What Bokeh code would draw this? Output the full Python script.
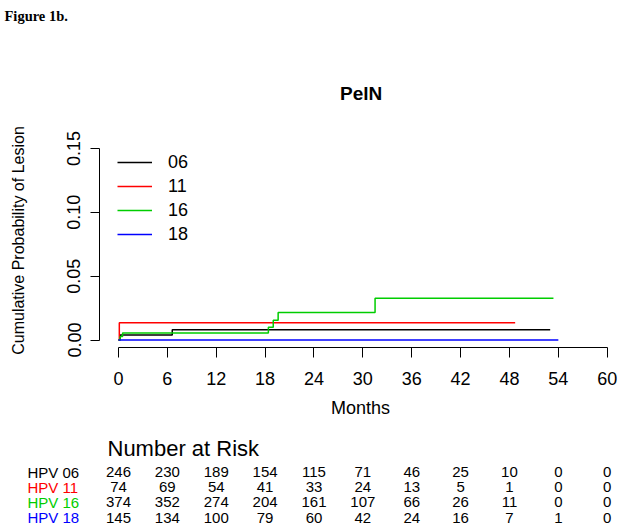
import math
from bokeh.plotting import figure
from bokeh.models import (Range1d, FixedTicker, NumeralTickFormatter, Legend, LegendItem,
                          ColumnDataSource, LinearAxis)
from bokeh.embed import file_html
from bokeh.resources import INLINE
from bokeh.core.properties import value

# ---------------- data ----------------
groups = ["06", "11", "16", "18"]
group_colors = ["#000000", "#FF0000", "#00CD00", "#0000FF"]

time_06 = [0.0, 0.2, 6.6, 53.0]
prob_06 = [0.0, 0.0040, 0.0081, 0.0081]
time_11 = [0.0, 0.1, 48.7]
prob_11 = [0.0, 0.0135, 0.0135]
time_16 = [0.0, 0.2, 0.5, 18.4, 19.0, 19.6, 31.5, 53.4]
prob_16 = [0.0, 0.0027, 0.0054, 0.0100, 0.0155, 0.0215, 0.0327, 0.0327]
time_18 = [0.0, 54.0]
prob_18 = [0.0, 0.0]

month_ticks = [0, 6, 12, 18, 24, 30, 36, 42, 48, 54, 60]
prob_ticks = [0.0, 0.05, 0.10, 0.15]

risk_labels = ["HPV 06", "HPV 11", "HPV 16", "HPV 18"]
risk_06 = [246, 230, 189, 154, 115, 71, 46, 25, 10, 0, 0]
risk_11 = [74, 69, 54, 41, 33, 24, 13, 5, 1, 0, 0]
risk_16 = [374, 352, 274, 204, 161, 107, 66, 26, 11, 0, 0]
risk_18 = [145, 134, 100, 79, 60, 42, 24, 16, 7, 1, 0]

# ---------------- layout constants (pixels) ----------------
FONT = "Liberation Sans"
W, H = 619, 526
X0_PX, MONTH_PX = 118.0, 8.145      # x pixel of month 0, pixels per month
Y0_PX, PROB_PX = 339.5, 1277.0      # y pixel of probability 0, pixels per unit


def mx(px):   # pixel -> month
    return (px - X0_PX) / MONTH_PX


def py(px):   # pixel -> probability
    return (Y0_PX - px) / PROB_PX


p = figure(width=W, height=H, x_range=Range1d(mx(0), mx(W)), y_range=Range1d(py(H), py(0)),
           x_axis_location=None, y_axis_location=None, min_border=0,
           toolbar_location=None, output_backend="svg")
p.grid.visible = False
p.outline_line_color = None
p.background_fill_color = "white"
p.border_fill_color = "white"
p.extra_y_ranges = {"page": Range1d(H, 0), "risk": Range1d(1 - (H - 517) / 15.1, 1 + 517 / 15.1)}

# ---------------- curves ----------------
series = [(time_06, prob_06), (time_11, prob_11), (time_16, prob_16), (time_18, prob_18)]
renderers = []
for (t, pr), c in zip(series, group_colors):
    renderers.append(p.step(x=t, y=pr, mode="after", line_color=c, line_width=1.5))

# ---------------- axes ----------------
xaxis = LinearAxis(fixed_location=py(347), bounds=(0, 60), ticker=FixedTicker(ticks=month_ticks))
yaxis = LinearAxis(fixed_location=mx(99), bounds=(0, 0.15), ticker=FixedTicker(ticks=prob_ticks),
                   formatter=NumeralTickFormatter(format="0.00"))
for ax in (xaxis, yaxis):
    ax.axis_line_color = "black"
    ax.axis_line_width = 1
    ax.major_tick_line_color = "black"
    ax.major_tick_in = 0
    ax.minor_tick_line_color = None
    ax.major_label_text_color = "black"
    ax.major_label_text_font = FONT
    ax.major_label_text_font_size = "18px"
xaxis.major_tick_out = 10
xaxis.major_label_standoff = 14
yaxis.major_tick_out = 9
yaxis.major_label_standoff = 10
yaxis.major_label_orientation = "parallel"
p.add_layout(xaxis, "below")
p.add_layout(yaxis, "left")

# axis titles
p.text(x=[29.7], y=[407], y_range_name="page", text=["Months"], text_font=value(FONT),
       text_font_size="18px", text_align="center", text_baseline="middle", text_color="black")
p.text(x=[mx(18)], y=[240], y_range_name="page", text=["Cumulative Probability of Lesion"],
       text_font=value(FONT), text_font_size="16px", text_align="center", text_baseline="middle",
       angle=math.pi / 2, text_color="black")

# header and title
p.text(x=[mx(4)], y=[15], y_range_name="page", text=["Figure 1b."],
       text_font=value("Liberation Serif"), text_font_style="bold", text_font_size="14.5px",
       text_align="left", text_baseline="alphabetic", text_color="black")
p.text(x=[29.8], y=[93], y_range_name="page", text=["PelN"], text_font=value(FONT),
       text_font_style="bold", text_font_size="19px", text_align="center",
       text_baseline="middle", text_color="black")

# legend
legend = Legend(items=[LegendItem(label=g, renderers=[r]) for g, r in zip(groups, renderers)],
                location=(117, H - 244.5), padding=0, margin=0, spacing=3,
                glyph_width=35, glyph_height=20, label_height=20, label_standoff=16,
                label_text_font=FONT, label_text_font_size="18px", label_text_color="black",
                background_fill_alpha=0, border_line_alpha=0)
p.add_layout(legend)

# ---------------- number at risk table ----------------
p.text(x=[mx(107)], y=[448], y_range_name="page", text=["Number at Risk"], text_font=value(FONT),
       text_font_size="22px", text_align="left", text_baseline="middle", text_color="black")

risk_rows = [risk_06, risk_11, risk_16, risk_18]
for i, (lab, row, c) in enumerate(zip(risk_labels, risk_rows, group_colors)):
    yrow = 4 - i
    p.text(x=[mx(27)], y=[yrow], y_range_name="risk", text=[lab], text_font=value(FONT),
           text_font_size="15px", text_align="left", text_baseline="middle", text_color=c)
    src = ColumnDataSource(dict(x=month_ticks, y=[yrow] * len(month_ticks),
                                t=[str(v) for v in row]))
    p.text(x="x", y="y", text="t", source=src, y_range_name="risk", text_font=value(FONT),
           text_font_size="15px", text_align="center", text_baseline="middle", text_color="black")

with open("out.html", "w") as f:
    f.write(file_html(p, INLINE, title="Figure 1b"))
